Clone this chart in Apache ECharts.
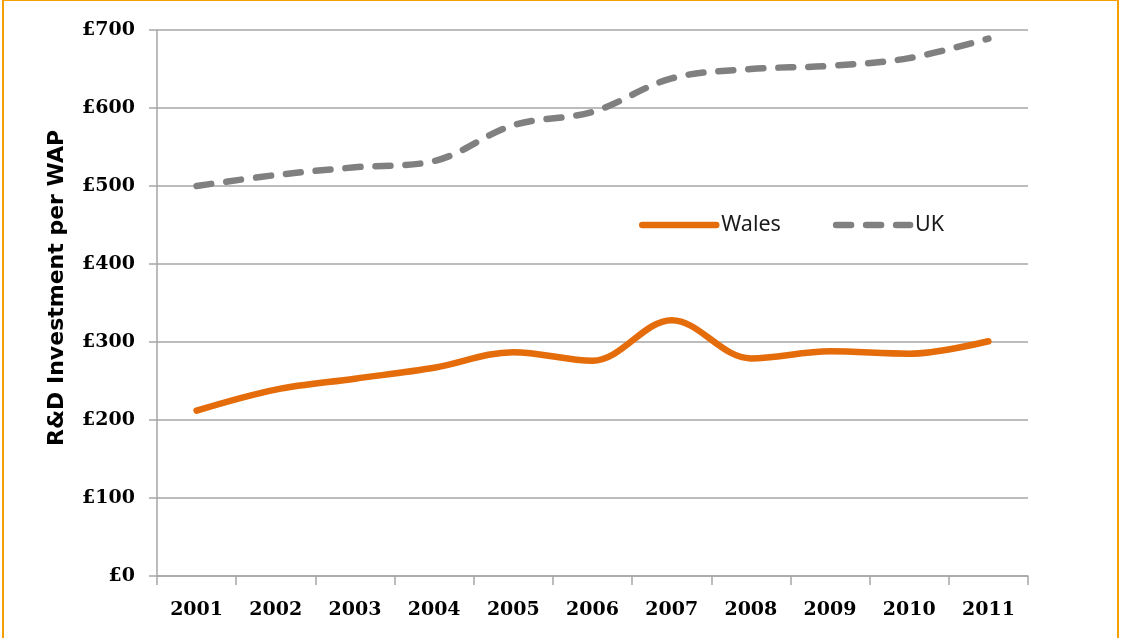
<!DOCTYPE html>
<html>
<head>
<meta charset="utf-8">
<title>R&amp;D Investment per WAP</title>
<script src="https://cdn.jsdelivr.net/npm/echarts@6/dist/echarts.min.js"></script>
<style>
  html, body { margin: 0; padding: 0; background: #ffffff; }
  #chart { width: 1122px; height: 638px; }
</style>
</head>
<body>
<div id="chart"></div>
<script>
// Years on the category axis
const years = ['2001', '2002', '2003', '2004', '2005', '2006', '2007', '2008', '2009', '2010', '2011'];
// R&D investment per working-age person (£)
const wales = [212, 239, 253, 267, 287, 276, 328, 279, 288, 285, 301];
const uk = [500, 514, 524, 532, 578, 595, 638, 650, 654, 664, 689];
// Value axis ticks
const yTicks = [0, 100, 200, 300, 400, 500, 600, 700];

const tickFont = 'DejaVu Serif';
const gridColor = '#a6a6a6';
const walesColor = '#e46c0a';
const ukColor = '#808080';
const ukDash = [15, 15];

const chart = echarts.init(document.getElementById('chart'), null, { renderer: 'canvas' });

chart.setOption({
  backgroundColor: '#ffffff',
  animation: false,
  grid: { left: 157, right: 94, top: 30, bottom: 62 },
  graphic: [
    {
      type: 'rect',
      shape: { x: 3, y: 0, width: 1115, height: 700 },
      style: { fill: 'none', stroke: '#f5a000', lineWidth: 2 },
      silent: true
    },
    {
      type: 'text',
      x: 57,
      y: 288,
      rotation: Math.PI / 2,
      style: {
        text: 'R&D Investment per WAP',
        font: 'bold 22px "DejaVu Sans"',
        fill: '#000000',
        align: 'center',
        verticalAlign: 'middle'
      }
    }
  ],
  legend: {
    left: 639,
    top: 214,
    padding: 0,
    itemWidth: 74,
    itemHeight: 14,
    itemGap: 52,
    itemStyle: { color: 'rgba(0,0,0,0)', borderWidth: 0 },
    textStyle: { fontFamily: 'Noto Sans', fontSize: 21.5, color: '#1a1a1a' },
    data: [
      { name: 'Wales', lineStyle: { color: walesColor, width: 6.5, type: 'solid', cap: 'round' } },
      { name: 'UK', lineStyle: { color: ukColor, width: 6.5, type: ukDash, cap: 'round' } }
    ]
  },
  xAxis: {
    type: 'category',
    data: years,
    boundaryGap: true,
    axisLine: { lineStyle: { color: gridColor, width: 1.5 } },
    axisTick: { show: true, length: 9, lineStyle: { color: gridColor, width: 1.5 } },
    axisLabel: {
      margin: 25,
      fontFamily: tickFont,
      fontWeight: 'bold',
      fontSize: 19,
      color: '#000000'
    }
  },
  yAxis: {
    type: 'value',
    min: yTicks[0],
    max: yTicks[yTicks.length - 1],
    interval: yTicks[1] - yTicks[0],
    axisLine: { show: true, lineStyle: { color: gridColor, width: 1.5 } },
    axisTick: { show: true, length: 8, lineStyle: { color: gridColor, width: 1.5 } },
    splitLine: { lineStyle: { color: gridColor, width: 1.5 } },
    axisLabel: {
      margin: 22,
      formatter: v => '£' + v,
      fontFamily: tickFont,
      fontWeight: 'bold',
      fontSize: 19,
      color: '#000000'
    }
  },
  series: [
    {
      name: 'Wales',
      type: 'line',
      data: wales,
      smooth: 0.35,
      symbol: 'none',
      lineStyle: { color: walesColor, width: 6.5, cap: 'round', join: 'round' },
      itemStyle: { color: walesColor }
    },
    {
      name: 'UK',
      type: 'line',
      data: uk,
      smooth: 0.35,
      symbol: 'none',
      lineStyle: { color: ukColor, width: 6.5, type: ukDash, cap: 'round', join: 'round' },
      itemStyle: { color: ukColor }
    }
  ]
});
</script>
</body>
</html>
